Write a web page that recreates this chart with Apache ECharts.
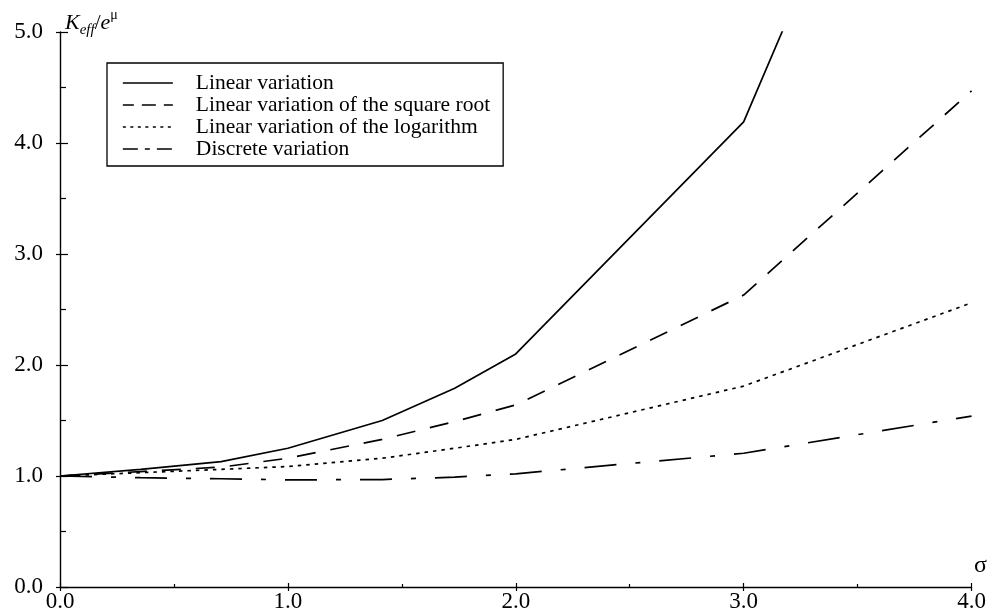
<!DOCTYPE html>
<html><head><meta charset="utf-8">
<script src="https://cdn.jsdelivr.net/npm/echarts@6/dist/echarts.min.js"></script>
<style>html,body{margin:0;padding:0;background:#fff}#c{width:990px;height:614px}</style>
</head><body><div id="c"></div>
<script>
// sigma values (x)
const sigma = [0, 0.354, 0.707, 1.0, 1.414, 1.732, 2.0, 3.0, 4.0];
// K_eff / e^mu for each model
const linearVariation   = [1.0, 1.06, 1.13, 1.25, 1.50, 1.79, 2.10, 4.19, 9.0];
const sqrtVariation     = [1.0, 1.04, 1.08, 1.16, 1.33, 1.49, 1.64, 2.63, 4.47];
const logVariation      = [1.0, 1.03, 1.06, 1.085, 1.16, 1.25, 1.33, 1.81, 2.56];
const discreteVariation = [1.0, 0.985, 0.975, 0.965, 0.968, 0.99, 1.02, 1.205, 1.54];
const seriesNames = [
  'Linear variation',
  'Linear variation of the square root',
  'Linear variation of the logarithm',
  'Discrete variation'
];
const xRange = [0, 4];
const yRange = [0, 5];

const FONT = '"Liberation Serif", "Times New Roman", serif';
const dashes = ['solid', [19, 15], [3.5, 5], [32, 19, 5, 19]];
const legendDashes = ['solid', [14, 8], [3, 4.5], [15, 7, 5, 7]];
const legendOffsets = [0, 3, 0, 0];
const allValues = [linearVariation, sqrtVariation, logVariation, discreteVariation];

const chart = echarts.init(document.getElementById('c'), null, {renderer: 'canvas'});
const fmt = v => v.toFixed(1);

const baseX = {
  type: 'value', min: xRange[0], max: xRange[1], interval: 1,
  splitLine: {show: false}
};
const baseY = {
  type: 'value', min: yRange[0], max: yRange[1], interval: 1,
  splitLine: {show: false}
};

chart.setOption({
  backgroundColor: '#fff',
  animation: false,
  grid: {left: 60, right: 17, top: 32, bottom: 27, containLabel: false},
  xAxis: [
    Object.assign({}, baseX, {
      position: 'bottom',
      name: 'σ', nameLocation: 'end', nameGap: 9,
      nameTextStyle: {fontFamily: FONT, fontSize: 24, color: '#000', align: 'center', verticalAlign: 'bottom', padding: [0, 0, 9, 0]},
      axisLine: {show: true, lineStyle: {color: '#000', width: 1.4}},
      axisTick: {show: true, inside: true, length: 4, lineStyle: {color: '#000', width: 1.2}},
      minorTick: {show: true, splitNumber: 2, length: 3, lineStyle: {color: '#000', width: 1.2}},
      axisLabel: {show: true, formatter: fmt, margin: 3, fontFamily: FONT, fontSize: 23, color: '#000'}
    }),
    Object.assign({}, baseX, {
      position: 'bottom',
      axisLine: {show: false},
      axisTick: {show: true, inside: false, length: 4, lineStyle: {color: '#000', width: 1.2}},
      axisLabel: {show: false}
    })
  ],
  yAxis: [
    Object.assign({}, baseY, {
      position: 'left',
      name: '{k|K}{sub|eff}{sl|/}{e|e}{sup|μ}',
      nameLocation: 'end', nameGap: 2,
      nameTextStyle: {
        align: 'left', verticalAlign: 'bottom', padding: [0, 0, -8, 5],
        rich: {
          k: {fontFamily: FONT, fontStyle: 'italic', fontSize: 22, color: '#000', lineHeight: 30, verticalAlign: 'middle'},
          sub: {fontFamily: FONT, fontStyle: 'italic', fontSize: 15, color: '#000', lineHeight: 14, verticalAlign: 'bottom'},
          sl: {fontFamily: FONT, fontSize: 21, color: '#000', lineHeight: 30, verticalAlign: 'middle'},
          e: {fontFamily: FONT, fontStyle: 'italic', fontSize: 22, color: '#000', lineHeight: 30, verticalAlign: 'middle'},
          sup: {fontFamily: FONT, fontSize: 14, color: '#000', lineHeight: 14, verticalAlign: 'top'}
        }
      },
      axisLine: {show: true, lineStyle: {color: '#000', width: 1.4}},
      axisTick: {show: true, inside: true, length: 8, lineStyle: {color: '#000', width: 1.2}},
      minorTick: {show: true, splitNumber: 2, length: 6, lineStyle: {color: '#000', width: 1.2}},
      axisLabel: {show: true, formatter: fmt, margin: 17, fontFamily: FONT, fontSize: 23, color: '#000'}
    }),
    Object.assign({}, baseY, {
      position: 'left',
      axisLine: {show: false},
      axisTick: {show: true, inside: false, length: 4, lineStyle: {color: '#000', width: 1.2}},
      axisLabel: {show: false}
    })
  ],
  legend: {
    show: true,
    left: 107, top: 63,
    orient: 'vertical',
    data: seriesNames.map((n, i) => ({
      name: n,
      lineStyle: {type: legendDashes[i], dashOffset: legendOffsets[i], width: 1.7, color: '#000'}
    })),
    itemWidth: 50, itemHeight: 10, itemGap: 0,
    padding: [9, 13, 6, 15],
    borderColor: '#000', borderWidth: 1.3, borderRadius: 0,
    backgroundColor: '#fff',
    selectedMode: false,
    itemStyle: {opacity: 0},
    textStyle: {fontFamily: FONT, fontSize: 21.5, color: '#000', lineHeight: 21.5, padding: [0, 0, 0, 18]}
  },
  series: seriesNames.map((name, i) => ({
    name: name,
    type: 'line',
    xAxisIndex: 0, yAxisIndex: 0,
    data: sigma.map((s, j) => [s, allValues[i][j]]),
    symbol: 'none',
    clip: true,
    lineStyle: {color: '#000', width: 1.7, type: dashes[i]},
    itemStyle: {color: '#000'},
    z: 3
  }))
});
</script></body></html>
